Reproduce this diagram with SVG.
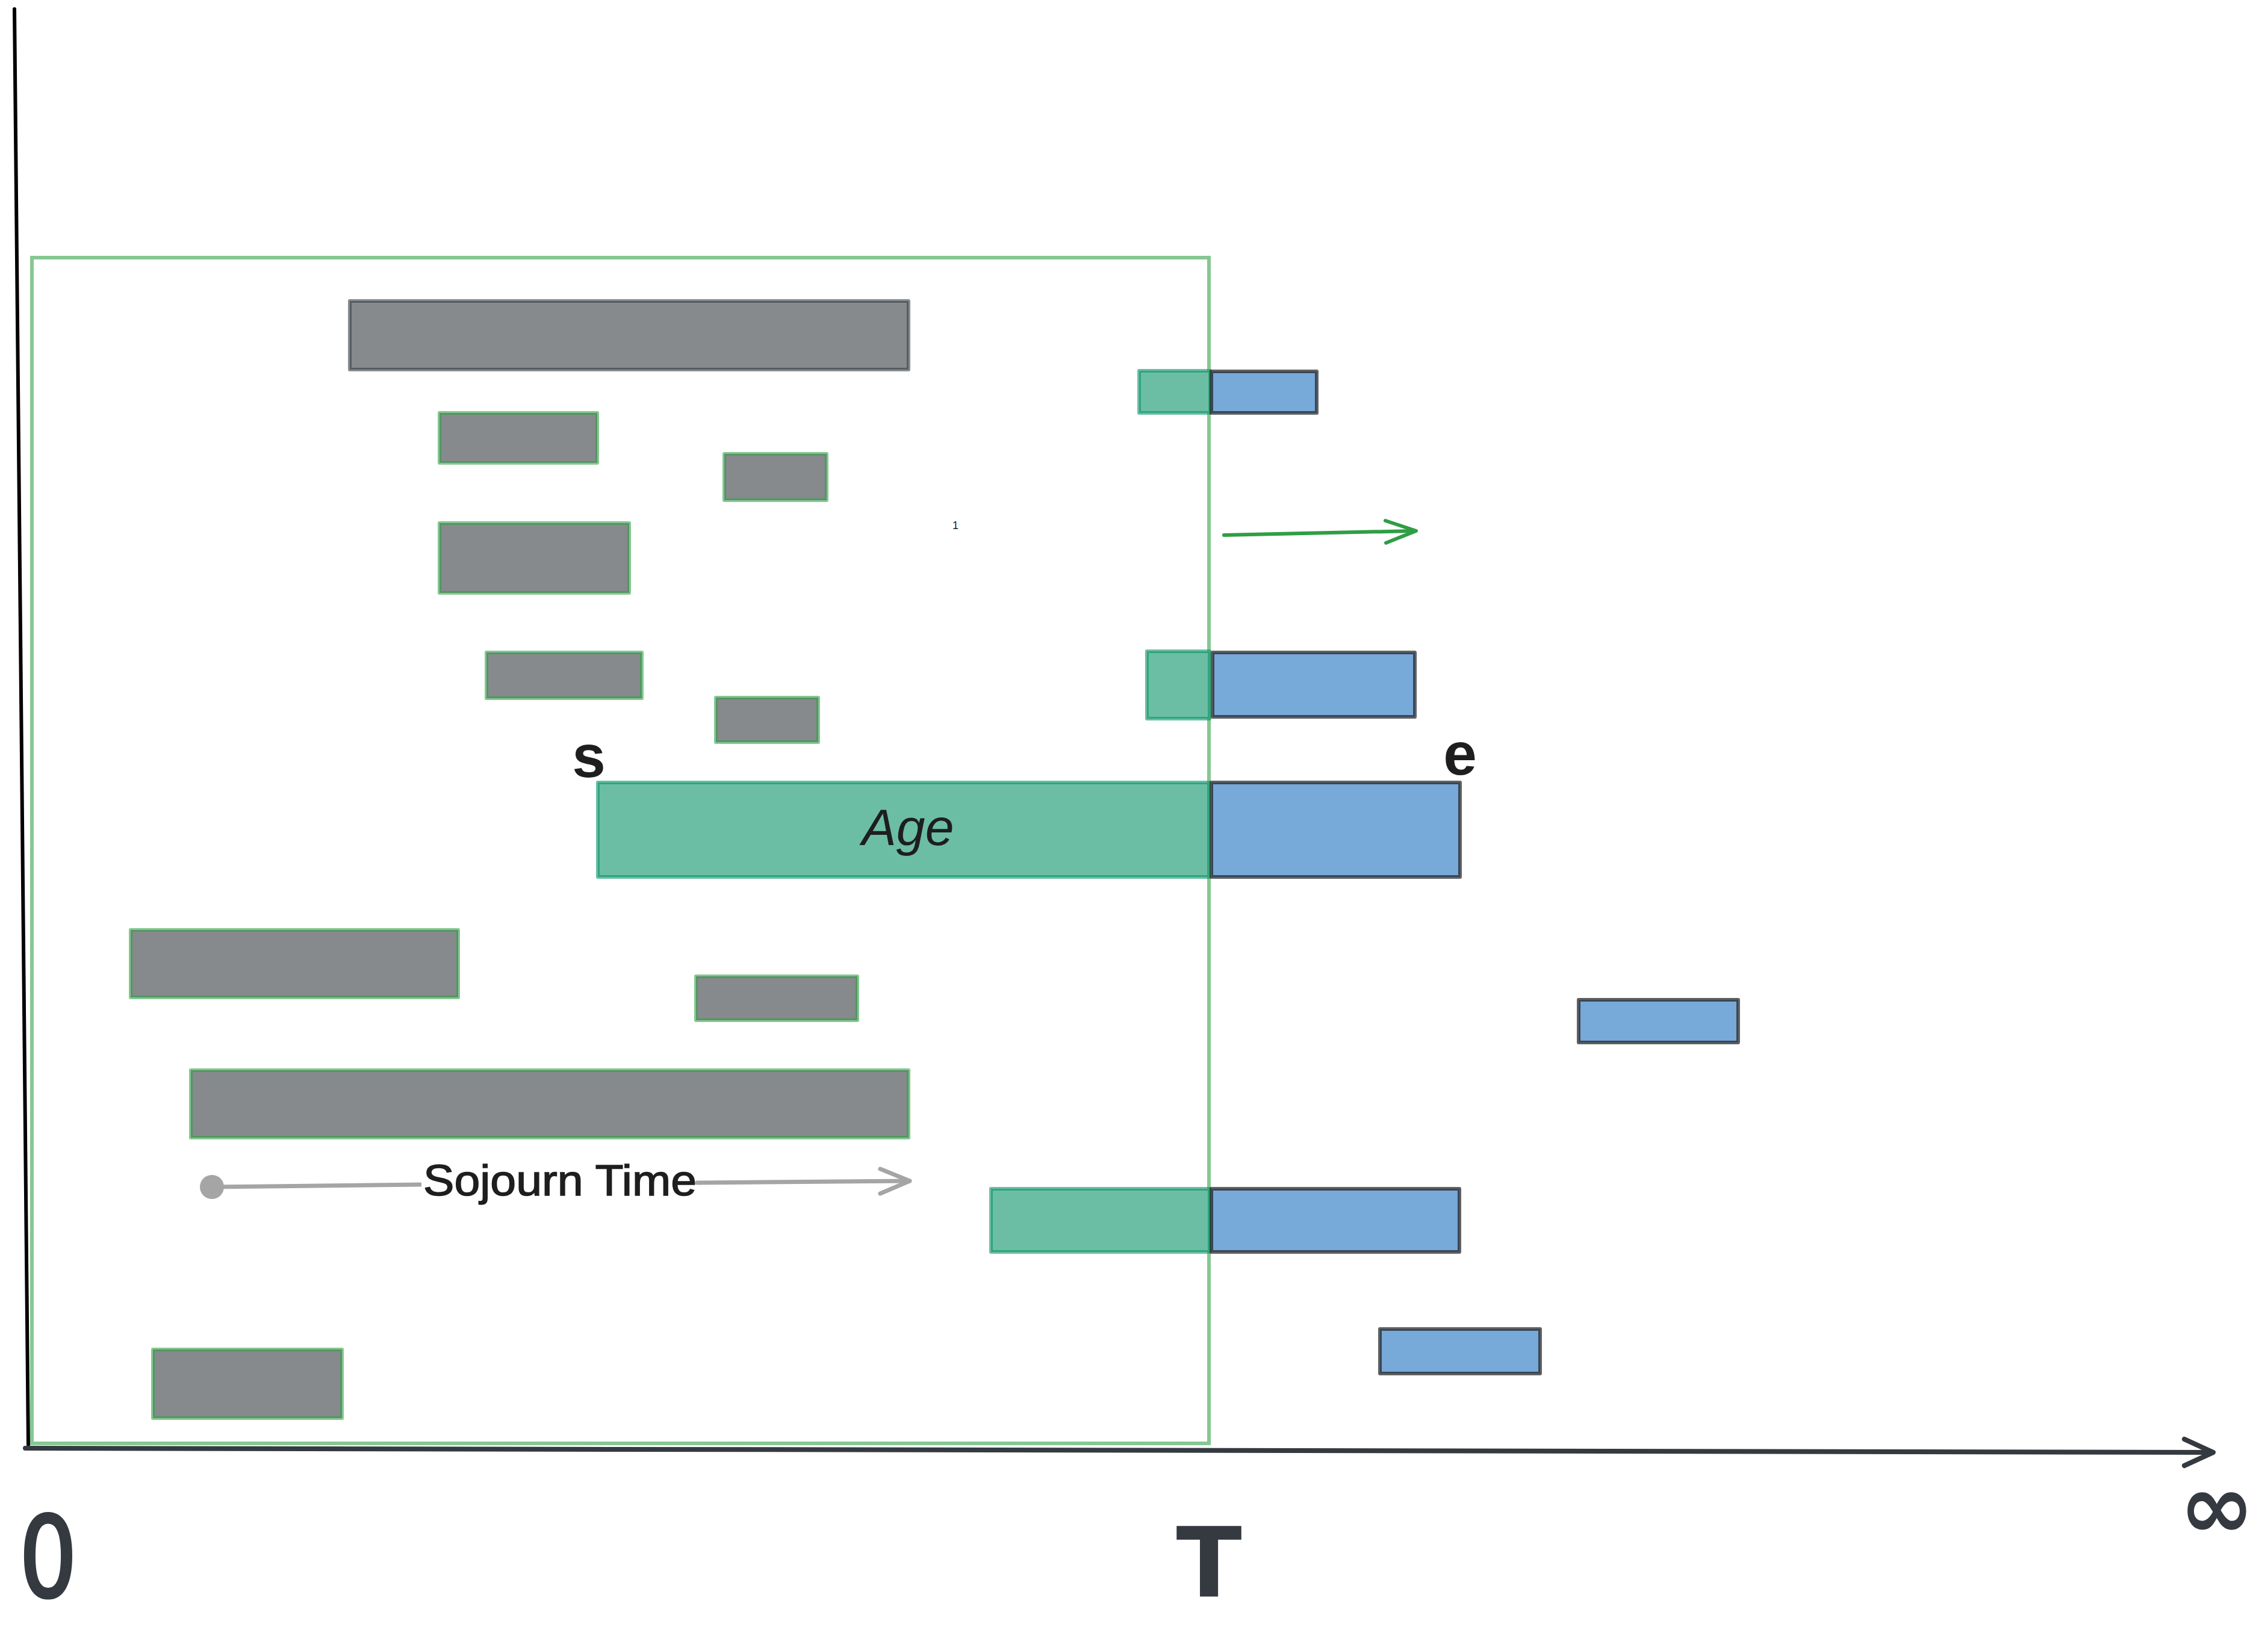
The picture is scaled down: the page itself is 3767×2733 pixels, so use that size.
<svg xmlns="http://www.w3.org/2000/svg" width="3767" height="2733" viewBox="0 0 3767 2733">
<style>
.grey{fill:#868a8d;stroke:#2f9e44;stroke-opacity:0.58;stroke-width:6;stroke-linejoin:round}
.greyd{fill:#868a8d;stroke:#343a40;stroke-opacity:0.58;stroke-width:6;stroke-linejoin:round}
.teal{fill:#6bbea4;stroke:#099268;stroke-opacity:0.6;stroke-width:6;stroke-linejoin:round}
.blue{fill:#77a9d9;stroke:#1e1e1e;stroke-opacity:0.7;stroke-width:6;stroke-linejoin:round}
.lbl{font-family:"Liberation Sans",Arial,sans-serif;fill:#1e1e1e}
.ax{font-family:"DejaVu Sans","Liberation Sans",sans-serif;fill:#343a40}
</style>
<rect width="3767" height="2733" fill="#ffffff"/>
<g id="frame">
<rect x="53" y="428" width="1955" height="1970" fill="none" stroke="#2f9e44" stroke-opacity="0.58" stroke-width="6"/>
</g>
<g id="axes">
<line x1="24" y1="15" x2="47" y2="2400" stroke="#000000" stroke-width="6" stroke-linecap="round"/>
<line x1="42" y1="2406" x2="3674" y2="2413" stroke="#343a40" stroke-width="8" stroke-linecap="round"/>
<polyline points="3628,2391 3676,2413 3628,2435" fill="none" stroke="#343a40" stroke-width="8" stroke-linecap="round" stroke-linejoin="round"/>
</g>
<g id="n1"><rect class="greyd" x="581" y="500" width="928" height="114"/></g>
<g id="n2"><rect class="grey" x="730" y="686" width="262" height="83"/></g>
<g id="n3"><rect class="grey" x="1203" y="754" width="170" height="77"/></g>
<g id="n4"><rect class="grey" x="730" y="869" width="315" height="116"/></g>
<g id="n5"><rect class="grey" x="808" y="1084" width="258" height="76"/></g>
<g id="n6"><rect class="grey" x="1189" y="1159" width="170" height="74"/></g>
<g id="n7"><rect class="teal" x="1892" y="616" width="118" height="70"/></g>
<g id="n8"><rect class="blue" x="2012" y="617" width="175" height="69"/></g>
<g id="n9"><rect class="teal" x="1905" y="1082" width="104" height="112"/></g>
<g id="n10"><rect class="blue" x="2014" y="1084" width="336" height="107"/></g>
<g id="n11"><rect class="teal" x="993" y="1300" width="1015" height="157"/>
<text class="lbl" x="1508" y="1404" font-size="86" font-style="italic" text-anchor="middle">Age</text></g>
<g id="n12"><rect class="blue" x="2012" y="1300" width="413" height="157"/></g>
<g id="n13"><rect class="grey" x="217" y="1545" width="544" height="112"/></g>
<g id="n14"><rect class="grey" x="1156" y="1622" width="268" height="73"/></g>
<g id="n15"><rect class="blue" x="2622" y="1661" width="265" height="71"/></g>
<g id="n16"><rect class="grey" x="317" y="1778" width="1192" height="112"/></g>
<g id="n17"><rect class="teal" x="1646" y="1975" width="363" height="105"/></g>
<g id="n18"><rect class="blue" x="2012" y="1975" width="412" height="105"/></g>
<g id="n19"><rect class="blue" x="2292" y="2208" width="266" height="74"/></g>
<g id="n20"><rect class="grey" x="254" y="2242" width="314" height="114"/></g>
<g id="connectors">
<line x1="2033" y1="889" x2="2350" y2="882" stroke="#2f9e44" stroke-width="6" stroke-linecap="round"/>
<polyline points="2301,865 2352,882 2302,902" fill="none" stroke="#2f9e44" stroke-width="6" stroke-linecap="round" stroke-linejoin="round"/>
<circle cx="352" cy="1972" r="20" fill="#a5a5a5"/>
<line x1="352" y1="1972" x2="700" y2="1968" stroke="#a5a5a5" stroke-width="7"/>
<line x1="1158" y1="1965" x2="1510" y2="1962" stroke="#a5a5a5" stroke-width="7" stroke-linecap="round"/>
<polyline points="1462,1942 1511,1962 1462,1983" fill="none" stroke="#a5a5a5" stroke-width="7" stroke-linecap="round" stroke-linejoin="round"/>
<text class="lbl" x="930" y="1986" font-size="72" text-anchor="middle" textLength="454" lengthAdjust="spacingAndGlyphs" stroke="#1e1e1e" stroke-width="1.5">Sojourn Time</text>
</g>
<g id="labels">
<text class="lbl" x="978" y="1291" font-size="100" font-weight="bold" text-anchor="middle">s</text>
<text class="lbl" x="2425" y="1287" font-size="100" font-weight="bold" text-anchor="middle">e</text>
<text class="lbl" x="1587" y="879" font-size="18" text-anchor="middle">1</text>
<text class="ax" x="80" y="2652" font-size="185" text-anchor="middle" textLength="96" lengthAdjust="spacingAndGlyphs" stroke="#343a40" stroke-width="5">0</text>
<text class="ax" x="2008" y="2652" font-size="160" font-weight="bold" text-anchor="middle">T</text>
<text class="ax" x="3682" y="2555" font-size="150" font-weight="bold" text-anchor="middle">∞</text>
</g>
</svg>
